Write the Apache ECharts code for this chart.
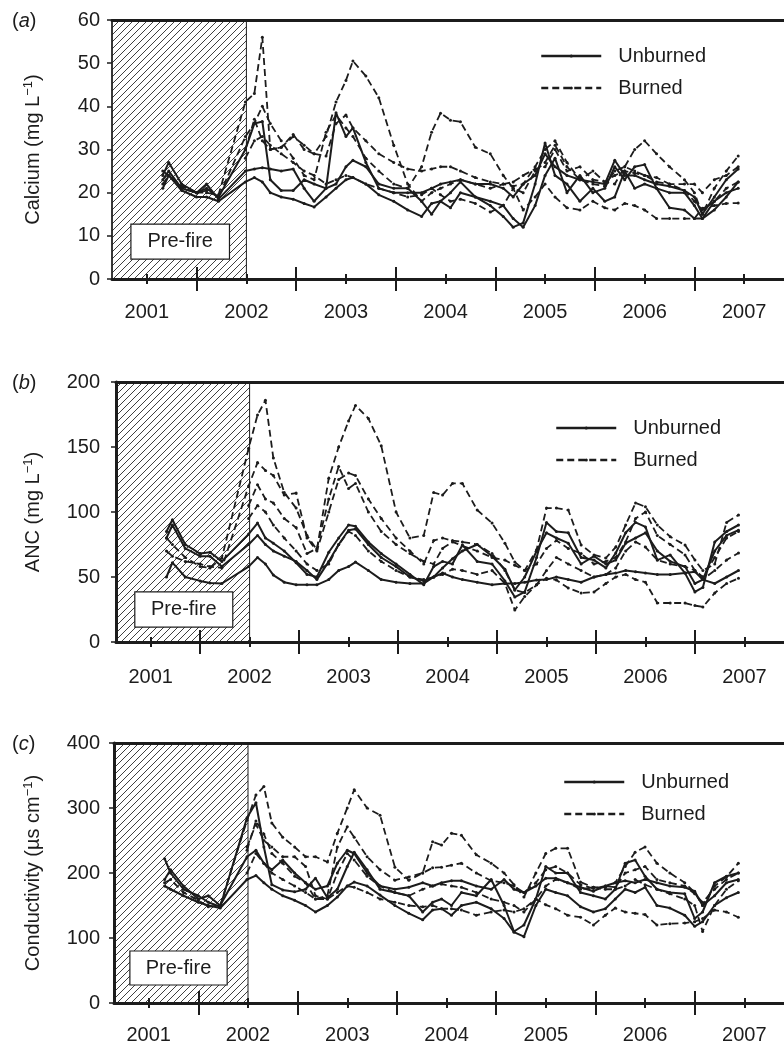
<!DOCTYPE html>
<html>
<head>
<meta charset="utf-8">
<script src="https://cdn.jsdelivr.net/npm/echarts@6/dist/echarts.min.js"></script>
<style>
  html, body { margin: 0; padding: 0; background: #fff; }
  #chart { width: 784px; height: 1045px; }
</style>
</head>
<body>
<div id="chart"></div>
<script>
// ---- sampling dates (decimal years) shared by all three panels ----
const sampleDates = [
  2001.16, 2001.22, 2001.35, 2001.5, 2001.6, 2001.72,
  2001.99, 2002.08, 2002.16, 2002.24, 2002.35, 2002.47, 2002.58, 2002.68, 2002.8, 2002.9,
  2003.0, 2003.07, 2003.2, 2003.33, 2003.48, 2003.62, 2003.76, 2003.86, 2003.95,
  2004.05, 2004.15, 2004.3, 2004.45, 2004.58, 2004.68, 2004.78, 2004.9,
  2005.0, 2005.1, 2005.22, 2005.35, 2005.48, 2005.6, 2005.7, 2005.8, 2005.9,
  2006.0, 2006.12, 2006.25, 2006.4, 2006.5, 2006.58, 2006.7, 2006.82, 2006.94
];
const yearLabels = [2001, 2002, 2003, 2004, 2005, 2006, 2007];
const halfYearTicks = [2001.5, 2002.5, 2003.5, 2004.5, 2005.5, 2006.5];
const fireDate = 2002.0;
const _ = null;

// ---- (a) calcium, mg/L ----
const caUnburned1 = [21, 24, 20.5, 19, 19, 18,  22.5, 23.5, 22.5, 20, 19, 18.5, 17.5, 16.7, 19, 21,  23, 23.5, 22, 19.5, 18, 16, 14.5, 17.5, 18,  16.5, 20, 19, 17, 14.5, 12, 13, 22,  31.5, 24, 22, 18, 21, 18, 19, 25, 21,  22, 21, 16.5, 16, 14, 14, 18, 20, 21];
const caUnburned2 = [24, 27, 22, 20, 22, 18.5,  25, 25.5, 25.8, 25.5, 25, 25.5, 21, 18, 21, 22,  26, 27.5, 26, 22, 21, 21, 18, 15, 18,  20, 22.5, 19, 18, 17, 14, 12, 17,  24, 28, 20, 24, 20, 21, 26, 23, 26,  26.5, 21, 20, 20, 17, 14, 16, 19, 22.5];
const caUnburned3 = [23, 25, 21, 20, 21, 19,  30, 36, 36.5, 23, 20.5, 20.5, 23, 22, 21, 38.5,  33, 35, 27, 21, 20, 20, 20, 21, 22,  22.5, 23, 22, 22, 21, 19, 22, 24,  29, 26, 24, 23, 22.5, 22, 27.5, 24, 24,  23, 22, 21.5, 20.5, 19, 15, 19, 23, 25.5];
const caBurned1 = [22, 24, 21, 20, 20, 19.5,  41, 43, 56, 30, 30.5, 33.5, 30, 29, 33, 41,  46, 50.5, 47, 42, 31, 22, 18, 20, 21,  22, 23, 22, 21, 22, 21.5, 22, 26,  30, 32, 27, 23, 25, 22.5, 22, 26, 30,  32, 29, 26, 23, 20, 15, 21, 25, 28.5];
const caBurned2 = [25, 24, 21.5, 20, 20.5, 19,  33, 36, 40, 36, 32, 28, 24, 23, 34, 38,  35, 33, 28, 25, 22, 21, 26, 34, 38.4,  36.8, 36.4, 30.5, 29, 24, 21, 20, 25,  27, 31, 26, 23, 22, 21.5, 25, 26, 25,  24, 22.5, 22, 22, 22, 20, 23, 24, 26];
const caBurned3 = [_, _, _, _, _, _,  30, 37, 32, 30, 30.5, 33, 31, 29, 28.5, 36,  38, 35, 32, 29, 27, 25.5, 25, 25.5, 26,  26, 25, 23.5, 22.5, 22, 22.5, 24, 25.5,  26, 30, 25, 26, 23, 22.5, 24, 25, 24.5,  24, 23.5, 22, 20.5, 18, 16, 18, 21, 22.5];
const caBurned4 = [_, _, _, _, _, _,  28, 32, 33, 31, 29, 27, 25, 24, 22, 23,  24, 23.5, 22, 21, 20, 19, 19.5, 21, 19.5,  18, 18.5, 17.5, 15.5, 17, 21, 16, 19,  22, 19, 16.5, 16, 18, 16.5, 16, 17.5, 17,  16, 14, 14, 14, 14, 16.4, 17, 17.5, 17.6];

// ---- (b) acid neutralising capacity, mg/L ----
const ancUnburned1 = [85, 94, 75, 68, 69, 62,  83, 91.5, 80, 76, 70, 61, 52, 50, 69, 80,  90, 89, 77, 68, 60, 52, 44, 58, 62,  60, 74.6, 62, 60, 47, 34.6, 38.5, 65,  92, 85, 84, 65, 63, 57, 68.5, 84, 92,  88.5, 63, 67, 53, 38.5, 42, 77, 85, 90];
const ancUnburned2 = [80, 90, 72, 66, 66, 58,  75, 82, 75, 70, 66, 62, 55, 48, 62, 75,  86, 87, 75, 65, 58, 50, 47, 50, 57,  64, 70, 75, 66, 56, 40, 50, 70,  84, 80, 76, 60, 66, 60, 63, 76, 80,  84, 70, 62, 58, 45, 48, 70, 82, 86];
const ancUnburned3 = [50, 61, 50, 47, 45.4, 45,  58, 65, 60, 51.5, 46, 44, 44, 44, 48, 55,  58, 61.5, 55, 48, 46, 45, 45, 50, 53,  50, 48, 46, 44, 45, 45, 46, 47.7,  48, 50, 48, 46, 50, 52, 53, 55, 54,  53, 52, 52, 53, 54, 48, 45, 50, 55];
const ancBurned1 = [80, 75, 65, 58, 57, 64.6,  149, 174.6, 186, 141.5, 115, 103, 82, 71, 126, 150,  170, 182, 172, 151, 100, 80, 82, 115, 113,  122, 122, 101.5, 91.5, 76, 61.5, 55, 71,  103, 103, 101.5, 74.6, 67, 64.6, 73, 90, 107,  104, 90, 81, 74.6, 63, 55, 60, 92, 97.7];
const ancBurned2 = [70, 66, 62, 60, 58, 57,  120, 138, 132, 128, 113, 114.6, 80, 70, 100, 125,  130, 128, 110, 95, 80, 70, 60, 78, 80,  78, 77, 75, 68, 55, 40, 38, 44,  55, 65, 60, 55, 50, 52, 57, 70, 77,  73, 63, 60, 58, 55, 48, 55, 63, 68.5];
const ancBurned3 = [_, _, _, _, _, _,  105, 121, 110, 107, 95, 88, 68, 72, 110, 135,  118, 122, 100, 85, 75, 68, 62, 60, 72,  77, 74, 70, 65, 63, 59, 55, 60,  72, 78, 72, 68, 60, 62, 65, 77, 95,  100, 82, 75, 67, 55, 50, 65, 80, 85];
const ancBurned4 = [_, _, _, _, _, _,  95, 105, 100, 90, 80, 70, 60, 55, 60, 75,  85, 82, 70, 62, 55, 50, 48, 50, 52,  56, 55, 52, 55, 45, 24.6, 35, 44,  49, 47.7, 41.5, 37.7, 38.5, 45, 50, 52, 48,  46, 30, 30, 30, 28, 27, 37.7, 45, 49];

// ---- (c) conductivity, µS/cm ----
const condUnburned1 = [180, 175, 165, 155, 150, 146,  190, 196, 185, 175, 165, 158, 150, 140, 150, 163,  180, 186, 180, 166, 150, 138, 128, 143, 145,  135, 150, 155, 145, 130, 109, 102, 150,  175, 170, 165, 148, 140, 145, 160, 175, 170,  178, 150, 146, 135, 118, 125, 150, 162, 170];
const condUnburned2 = [222, 200, 175, 165, 155, 148,  285, 308, 240, 182, 174, 171, 175, 192, 162, 175,  210, 232, 205, 175, 170, 165, 140, 155, 160,  150, 170, 165, 190, 150, 110, 120, 160,  210, 200, 200, 170, 165, 160, 175, 215, 220,  195, 175, 170, 168, 130, 140, 185, 195, 200];
const condUnburned3 = [190, 205, 180, 160, 165, 150,  225, 235, 215, 205, 220, 200, 185, 175, 180, 215,  235, 230, 200, 180, 175, 178, 185, 180, 185,  188, 188, 180, 175, 190, 175, 170, 180,  192, 192, 185, 178, 172, 180, 185, 188, 185,  190, 185, 180, 178, 172, 150, 165, 185, 190];
const condBurned1 = [185, 190, 170, 158, 148, 150,  281, 320, 333, 277, 255, 240, 225, 225, 217, 261,  300, 328, 300, 289, 209, 189, 200, 248, 243,  261, 258, 228, 215, 200, 182, 163, 200,  230, 238, 238, 186, 178, 178, 185, 210, 232,  240, 215, 200, 185, 170, 150, 180, 194, 215];
const condBurned2 = [_, _, _, _, _, _,  235, 280, 260, 230, 215, 195, 185, 160, 165, 240,  271, 255, 225, 205, 189, 194, 200, 208, 209,  212, 215, 200, 188, 185, 180, 170, 185,  205, 210, 200, 182, 176, 180, 178, 200, 205,  210, 190, 185, 180, 168, 155, 175, 190, 200];
const condBurned3 = [_, _, _, _, _, _,  240, 275, 250, 240, 225, 225, 210, 165, 160, 200,  230, 220, 195, 180, 170, 165, 175, 180, 183,  180, 178, 170, 160, 155, 150, 140, 160,  180, 190, 185, 175, 178, 175, 175, 180, 190,  182, 175, 168, 160, 150, 110, 150, 175, 188];
const condBurned4 = [_, _, _, _, _, _,  200, 230, 215, 200, 190, 180, 170, 160, 160, 170,  180, 178, 170, 160, 155, 150, 148, 150, 145,  145, 143, 135, 140, 143, 140, 145, 160,  151, 145, 135, 132, 120, 135, 146, 140, 138,  136, 120, 122, 123, 125, 130, 143, 140, 132];

// ---- drawing settings ----
const INK = '#1c1c1c';
const FONT = '"Liberation Sans", Arial, Helvetica, sans-serif';
const X_MIN = 2000.65, X_MAX = 2007.4, PX_PER_YEAR = 101.4;

const panels = [
  { tag: 'a', left: 112, top: 20, height: 259, yMax: 60, yStep: 10, axisW: 1.5, yLabelMargin: 12, xLabelMargin: 23, nameGap: 68,
    name: ['Calcium (mg L', ')'],
    unburned: [caUnburned1, caUnburned2, caUnburned3], burned: [caBurned1, caBurned2, caBurned3, caBurned4],
    box: [[2000.84, 4.6], [2001.83, 12.7]], legend: { left: 540, top: 46 } },
  { tag: 'b', left: 116, top: 382, height: 260, yMax: 200, yStep: 50, axisW: 3, yLabelMargin: 16, xLabelMargin: 25, nameGap: 72,
    name: ['ANC (mg L', ')'],
    unburned: [ancUnburned1, ancUnburned2, ancUnburned3], burned: [ancBurned1, ancBurned2, ancBurned3, ancBurned4],
    box: [[2000.84, 11.5], [2001.83, 38.5]], legend: { left: 555, top: 418 } },
  { tag: 'c', left: 114, top: 743, height: 260, yMax: 400, yStep: 100, axisW: 3, yLabelMargin: 14, xLabelMargin: 22, nameGap: 70,
    name: ['Conductivity (µs cm', ')'],
    unburned: [condUnburned1, condUnburned2, condUnburned3], burned: [condBurned1, condBurned2, condBurned3, condBurned4],
    box: [[2000.81, 27.7], [2001.79, 80]], legend: { left: 563, top: 772 } }
];

// diagonal hatching for the pre-fire period
function hatchPattern() {
  const s = 7;
  const c = document.createElement('canvas');
  c.width = s; c.height = s;
  const g = c.getContext('2d');
  g.strokeStyle = '#2a2a2a';
  g.lineWidth = 0.9;
  g.beginPath();
  g.moveTo(0, s); g.lineTo(s, 0);
  g.moveTo(-1, 1); g.lineTo(1, -1);
  g.moveTo(s - 1, s + 1); g.lineTo(s + 1, s - 1);
  g.stroke();
  return c;
}
const hatch = { image: hatchPattern(), repeat: 'repeat' };

function toPairs(values) {
  const out = [];
  values.forEach((v, k) => { if (v !== null) out.push([sampleDates[k], v]); });
  return out;
}

const option = {
  backgroundColor: '#fff',
  animation: false,
  textStyle: { fontFamily: FONT },
  grid: [], xAxis: [], yAxis: [], series: [], legend: [], graphic: []
};

panels.forEach((p, i) => {
  option.grid.push({ left: p.left, top: p.top, height: p.height, width: (X_MAX - X_MIN) * PX_PER_YEAR });

  const base = option.xAxis.length;
  const common = { type: 'value', gridIndex: i, min: X_MIN, max: X_MAX, splitLine: { show: false }, z: 10 };
  const tickStyle = { color: INK, width: 2 };
  // main bottom axis: line, long outer ticks at mid-year, year labels
  option.xAxis.push(Object.assign({}, common, {
    position: 'bottom',
    axisLine: { show: true, lineStyle: { color: INK, width: 3 } },
    axisTick: { show: true, customValues: halfYearTicks, length: 12, lineStyle: tickStyle },
    axisLabel: { show: true, customValues: yearLabels, margin: p.xLabelMargin, fontSize: 20, color: INK, fontFamily: FONT,
                 formatter: v => String(Math.round(v)) }
  }));
  // inner half of the long ticks
  option.xAxis.push(Object.assign({}, common, {
    position: 'bottom', axisLine: { show: false },
    axisTick: { show: true, inside: true, customValues: halfYearTicks, length: 12, lineStyle: tickStyle },
    axisLabel: { show: false }
  }));
  // short ticks at the years, both sides
  option.xAxis.push(Object.assign({}, common, {
    position: 'bottom', axisLine: { show: false },
    axisTick: { show: true, customValues: yearLabels, length: 5, lineStyle: tickStyle },
    axisLabel: { show: false }
  }));
  option.xAxis.push(Object.assign({}, common, {
    position: 'bottom', axisLine: { show: false },
    axisTick: { show: true, inside: true, customValues: yearLabels, length: 5, lineStyle: tickStyle },
    axisLabel: { show: false }
  }));
  // top frame line
  option.xAxis.push(Object.assign({}, common, {
    position: 'top',
    axisLine: { show: true, lineStyle: { color: INK, width: 3 } },
    axisTick: { show: false }, axisLabel: { show: false }
  }));

  option.yAxis.push({
    type: 'value', gridIndex: i, min: 0, max: p.yMax, interval: p.yStep, z: 10,
    axisLine: { show: true, lineStyle: { color: INK, width: p.axisW } },
    axisTick: { show: true, length: 5, lineStyle: { color: INK, width: 1.5 } },
    axisLabel: { margin: p.yLabelMargin, fontSize: 20, color: INK, fontFamily: FONT },
    splitLine: { show: false },
    name: '{n|' + p.name[0] + '}{s|−1}{n|' + p.name[1] + '}',
    nameLocation: 'middle', nameRotate: 90, nameGap: p.nameGap,
    nameTextStyle: {
      color: INK, fontSize: 20, fontFamily: FONT,
      rich: {
        n: { fontSize: 20, color: INK, fontFamily: FONT, lineHeight: 22 },
        s: { fontSize: 13, color: INK, fontFamily: FONT, verticalAlign: 'top', lineHeight: 13 }
      }
    }
  });

  const addSeries = (values, name, dashed, extra) => {
    option.series.push(Object.assign({
      type: 'line', name: name, xAxisIndex: base, yAxisIndex: i,
      data: toPairs(values),
      symbol: 'circle', symbolSize: 3, showSymbol: true,
      itemStyle: { color: INK },
      lineStyle: { color: INK, width: dashed ? 1.8 : 2, type: dashed ? [7, 4] : 'solid' },
      emphasis: { disabled: true },
      z: 5
    }, extra || {}));
  };

  p.unburned.forEach((v, k) => addSeries(v, 'Unburned', false, k === 0 ? {
    markArea: {
      silent: true,
      label: { show: false },
      data: [
        [{ xAxis: X_MIN, yAxis: 0, itemStyle: { color: hatch, borderColor: INK, borderWidth: 1 } },
         { xAxis: fireDate, yAxis: p.yMax }],
        [{ name: 'Pre-fire', xAxis: p.box[0][0], yAxis: p.box[0][1],
           itemStyle: { color: '#fff', borderColor: INK, borderWidth: 1.2 },
           label: { show: true, position: 'inside', fontSize: 20, color: INK, fontFamily: FONT } },
         { xAxis: p.box[1][0], yAxis: p.box[1][1] }]
      ]
    }
  } : null));
  p.burned.forEach(v => addSeries(v, 'Burned', true));

  option.legend.push({
    data: ['Unburned', 'Burned'],
    orient: 'vertical', left: p.legend.left, top: p.legend.top,
    padding: 0, itemGap: 12, itemWidth: 60, itemHeight: 4,
    selectedMode: false,
    lineStyle: { width: 2.5 },
    textStyle: { fontSize: 20, color: INK, fontFamily: FONT, padding: [0, 0, 0, 12] }
  });

  option.graphic.push({
    type: 'text', left: 12, top: p.top - 9,
    style: {
      text: '{p|(}{i|' + p.tag + '}{p|)}',
      rich: {
        p: { fontSize: 20, fontFamily: FONT, fill: INK },
        i: { fontSize: 20, fontFamily: FONT, fontStyle: 'italic', fill: INK }
      }
    }
  });
});

const chart = echarts.init(document.getElementById('chart'), null, { renderer: 'canvas' });
chart.setOption(option);
</script>
</body>
</html>
